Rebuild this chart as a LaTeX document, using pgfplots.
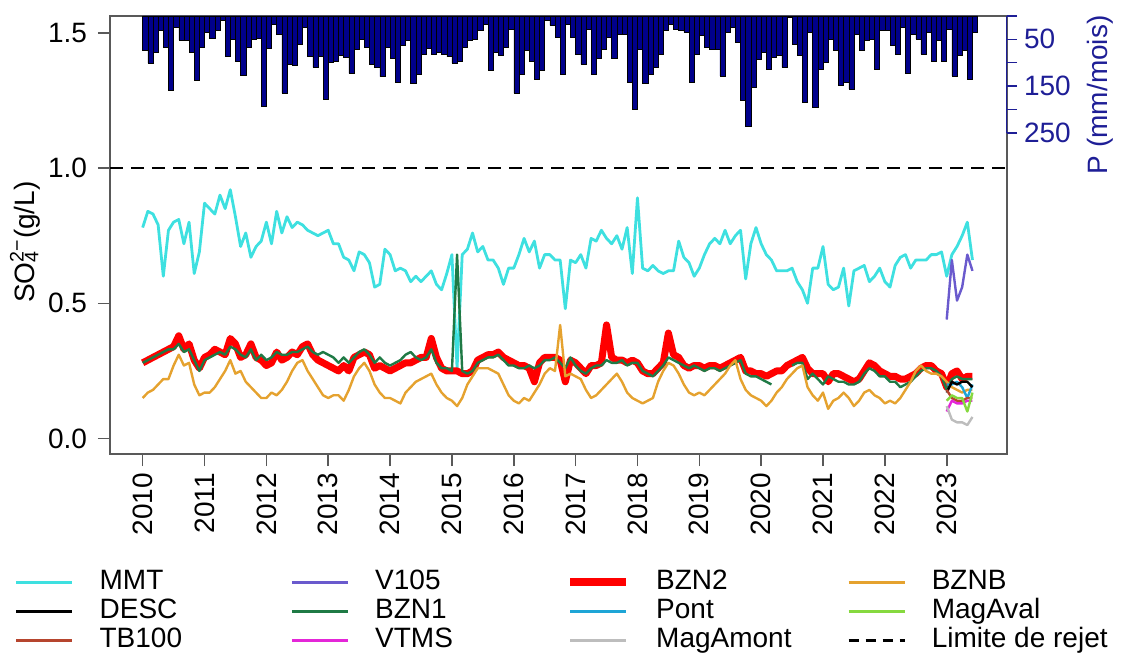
\documentclass[border=0pt]{standalone}
\usepackage{fontspec}
\setmainfont{Liberation Sans}
\usepackage{pgfplots}
\usepackage{pgfplotstable}
\pgfplotsset{compat=1.18}

\definecolor{cMMT}{HTML}{3EE0E0}
\definecolor{cV105}{HTML}{6A5ACD}
\definecolor{cBZN2}{HTML}{FF0000}
\definecolor{cBZNB}{HTML}{E5A22F}
\definecolor{cBZN1}{HTML}{1F7A45}
\definecolor{cPont}{HTML}{1EA5D6}
\definecolor{cMagAval}{HTML}{86D93F}
\definecolor{cTB100}{HTML}{B6452E}
\definecolor{cVTMS}{HTML}{E426D8}
\definecolor{cMagAmont}{HTML}{BDBDBD}
\definecolor{barblue}{HTML}{00008B}
\definecolor{pblue}{HTML}{1E1E96}
\definecolor{boxgray}{HTML}{595959}
\newcommand{\fs}{\fontsize{14}{16.8}\selectfont}
\newcommand{\lt}[1]{\makebox[95.5pt][l]{#1}}

% m = month index from Jan 2010; P in mm/mois; concentrations in g/L
\pgfplotstableread{
m P MMT BZN2 BZN1 BZNB
0 73 0.78 0.28 0.28 0.15
1 101 0.84 0.29 0.29 0.17
2 78 0.83 0.30 0.30 0.18
3 31 0.79 0.31 0.31 0.20
4 67 0.60 0.32 0.32 0.22
5 158 0.77 0.33 0.33 0.22
6 24 0.80 0.34 0.33 0.27
7 51 0.81 0.38 0.35 0.31
8 53 0.72 0.33 0.32 0.27
9 78 0.80 0.35 0.33 0.28
10 137 0.61 0.29 0.29 0.20
11 67 0.69 0.26 0.25 0.16
12 35 0.87 0.30 0.29 0.17
13 47 0.85 0.31 0.30 0.17
14 31 0.83 0.33 0.31 0.19
15 10 0.90 0.32 0.32 0.22
16 87 0.85 0.31 0.31 0.25
17 49 0.92 0.37 0.34 0.29
18 96 0.82 0.35 0.33 0.24
19 126 0.71 0.30 0.31 0.25
20 67 0.76 0.31 0.30 0.21
21 49 0.67 0.35 0.33 0.19
22 47 0.71 0.30 0.29 0.17
23 194 0.73 0.29 0.31 0.15
24 70 0.80 0.27 0.29 0.15
25 17 0.72 0.28 0.30 0.17
26 40 0.84 0.32 0.32 0.16
27 165 0.76 0.29 0.31 0.18
28 103 0.82 0.30 0.31 0.21
29 106 0.78 0.32 0.32 0.25
30 60 0.80 0.31 0.32 0.28
31 24 0.79 0.34 0.33 0.29
32 87 0.77 0.35 0.34 0.25
33 110 0.76 0.31 0.32 0.22
34 87 0.75 0.29 0.31 0.19
35 178 0.76 0.28 0.32 0.16
36 99 0.77 0.27 0.31 0.15
37 96 0.72 0.26 0.30 0.16
38 85 0.72 0.25 0.28 0.16
39 88 0.67 0.27 0.30 0.14
40 123 0.66 0.25 0.28 0.18
41 71 0.62 0.30 0.30 0.23
42 49 0.69 0.31 0.32 0.26
43 67 0.68 0.32 0.33 0.28
44 104 0.65 0.31 0.31 0.25
45 110 0.56 0.26 0.28 0.20
46 130 0.57 0.27 0.30 0.17
47 67 0.70 0.26 0.28 0.15
48 90 0.68 0.25 0.27 0.15
49 142 0.62 0.26 0.28 0.14
50 63 0.63 0.27 0.29 0.13
51 53 0.62 0.28 0.31 0.17
52 145 0.58 0.28 0.32 0.19
53 124 0.60 0.29 0.30 0.21
54 81 0.58 0.30 0.29 0.22
55 70 0.60 0.30 0.30 0.23
56 81 0.62 0.37 0.33 0.24
57 78 0.57 0.30 0.28 0.20
58 81 0.55 0.26 0.26 0.17
59 87 0.61 0.25 0.26 0.15
60 101 0.68 0.25 0.25 0.14
61 96 0.26 0.25 0.68 0.12
62 67 0.68 0.24 0.25 0.15
63 53 0.70 0.24 0.24 0.20
64 49 0.76 0.25 0.25 0.23
65 31 0.69 0.29 0.28 0.26
66 17 0.71 0.30 0.29 0.26
67 117 0.66 0.31 0.30 0.26
68 78 0.66 0.31 0.30 0.25
69 85 0.63 0.32 0.31 0.24
70 67 0.57 0.30 0.29 0.20
71 28 0.63 0.29 0.27 0.16
72 165 0.63 0.28 0.27 0.14
73 124 0.68 0.27 0.26 0.13
74 74 0.74 0.27 0.26 0.15
75 96 0.69 0.26 0.27 0.14
76 135 0.73 0.21 0.26 0.17
77 117 0.63 0.28 0.27 0.20
78 10 0.68 0.30 0.29 0.24
79 20 0.68 0.30 0.29 0.26
80 45 0.66 0.30 0.30 0.25
81 124 0.66 0.29 0.28 0.42
82 17 0.48 0.21 0.26 0.23
83 45 0.66 0.29 0.30 0.24
84 81 0.65 0.28 0.27 0.23
85 103 0.68 0.26 0.25 0.22
86 28 0.63 0.24 0.24 0.18
87 124 0.74 0.27 0.26 0.15
88 90 0.73 0.27 0.27 0.16
89 71 0.77 0.28 0.27 0.18
90 45 0.74 0.42 0.29 0.20
91 90 0.72 0.30 0.28 0.22
92 39 0.75 0.29 0.28 0.24
93 39 0.70 0.29 0.29 0.21
94 142 0.78 0.28 0.27 0.17
95 199 0.61 0.29 0.28 0.15
96 71 0.89 0.28 0.28 0.14
97 145 0.63 0.25 0.25 0.13
98 124 0.62 0.24 0.24 0.14
99 110 0.64 0.24 0.23 0.15
100 81 0.62 0.26 0.25 0.21
101 31 0.61 0.28 0.27 0.25
102 17 0.62 0.39 0.30 0.28
103 28 0.62 0.31 0.29 0.27
104 31 0.73 0.30 0.28 0.24
105 35 0.67 0.27 0.27 0.20
106 142 0.65 0.26 0.26 0.17
107 81 0.60 0.27 0.27 0.16
108 42 0.63 0.27 0.26 0.17
109 67 0.68 0.26 0.25 0.16
110 71 0.72 0.27 0.26 0.18
111 71 0.74 0.27 0.26 0.20
112 128 0.72 0.26 0.25 0.22
113 35 0.77 0.27 0.26 0.24
114 24 0.72 0.28 0.27 0.27
115 56 0.75 0.29 0.28 0.29
116 181 0.77 0.30 0.29 0.22
117 237 0.59 0.25 0.24 0.18
118 153 0.72 0.25 0.23 0.16
119 92 0.78 0.24 0.23 0.15
120 78 0.72 0.24 0.22 0.14
121 113 0.68 0.23 0.21 0.12
122 88 0.66 0.24 0.20 0.14
123 85 0.62 0.25 nan 0.17
124 110 0.62 0.25 nan 0.19
125 3 0.62 0.27 nan 0.22
126 60 0.63 0.28 0.27 0.24
127 85 0.58 0.29 0.28 0.26
128 185 0.55 0.30 0.28 0.27
129 35 0.50 0.26 0.22 0.19
130 195 0.63 0.24 0.24 0.16
131 113 0.63 0.24 0.22 0.14
132 100 0.71 0.24 0.20 0.17
133 50 0.57 0.21 0.23 0.11
134 74 0.55 0.24 0.22 0.14
135 149 0.56 0.24 0.21 0.15
136 142 0.63 0.23 0.21 0.17
137 156 0.49 0.22 0.20 0.15
138 39 0.62 0.21 0.20 0.12
139 74 0.63 0.22 0.21 0.14
140 53 0.64 0.25 0.24 0.17
141 49 0.58 0.28 0.26 0.18
142 113 0.60 0.27 0.25 0.16
143 31 0.63 0.25 0.23 0.15
144 31 0.58 0.24 0.23 0.13
145 63 0.56 0.23 0.21 0.14
146 81 0.64 0.23 0.21 0.13
147 24 0.67 0.22 0.19 0.15
148 122 0.68 0.22 0.20 0.18
149 39 0.63 0.23 0.21 0.21
150 49 0.66 0.24 0.23 0.25
151 81 0.66 0.26 0.25 0.27
152 35 0.66 0.27 0.26 0.25
153 96 0.68 0.27 0.26 0.24
154 53 0.68 0.25 0.25 0.24
155 96 0.69 0.24 0.23 0.23
156 28 0.60 0.19 0.18 0.21
157 128 0.68 0.24 0.22 0.19
158 85 0.71 0.25 0.23 0.18
159 74 0.75 0.22 0.22 0.17
160 135 0.80 0.23 0.22 0.18
161 35 0.66 0.23 0.22 0.18
162 0 nan nan nan nan
}\monthly

% 2023 campaign stations
\pgfplotstableread{
m V105 DESC Pont MagAval MagAmont VTMS TB100
156 0.44 0.17 0.20 0.14 0.12 0.10 0.18
157 0.66 0.21 0.20 0.16 0.07 0.14 0.15
158 0.51 0.20 0.21 0.15 0.06 0.13 0.14
159 0.56 0.21 0.19 0.15 0.06 0.13 0.14
160 0.68 0.21 0.15 0.10 0.05 0.14 0.15
161 0.62 0.19 0.20 0.17 0.08 0.14 0.15
}\campagne

\begin{document}
\begin{tikzpicture}
\begin{axis}[
  name=main,
  at={(0,0)}, anchor=south west,
  scale only axis, width=448.5pt, height=219pt,
  xmin=-6.34, xmax=167.7, ymin=-0.057, ymax=1.562,
  axis line style={boxgray, line width=0.8pt},
  xtick={0,12,24,36,48,60,72,84,96,108,120,132,144,156},
  xticklabels={2010,2011,2012,2013,2014,2015,2016,2017,2018,2019,2020,2021,2022,2023},
  ytick={0,0.5,1,1.5}, yticklabels={0.0,0.5,1.0,1.5},
  xtick pos=bottom, ytick pos=left,
  tick align=outside, major tick length=6pt,
  tick style={boxgray, line width=0.8pt},
  xticklabel style={rotate=90, anchor=east, font=\fs},
  yticklabel style={font=\fs, xshift=-2pt},
  /pgf/number format/assume math mode=true,
  ylabel={SO\rlap{\textsubscript{4}}\textsuperscript{2−}(g/L)},
  ylabel style={font=\fs, at={(axis description cs:-0.0948,0.484)}, anchor=center},
  no markers,
  legend columns=4,
  legend style={at={(axis description cs:-0.1059,-0.2648)}, anchor=north west,
    draw=none, fill=none, inner sep=0pt, outer sep=0pt, column sep=0pt, row sep=2pt,
    font=\fs, cells={anchor=west},
    nodes={inner sep=0pt, text height=10pt, text depth=2.5pt}},
  legend image code/.code={\draw[#1] (0pt,0pt) -- (28pt,0pt); \path (41pt,0pt);},
]
\addplot[forget plot, black, line width=1pt, dash pattern=on 6.5pt off 4pt] coordinates {(-6.34,1) (167.7,1)};
\addplot[forget plot, cMMT, line width=1.4pt, line join=round] table[x=m, y=MMT] {\monthly};
\addplot[forget plot, cBZN2, line width=3.5pt, line join=round] table[x=m, y=BZN2] {\monthly};
\addplot[forget plot, cBZN1, line width=1.2pt, line join=round, unbounded coords=jump] table[x=m, y=BZN1] {\monthly};
\addplot[forget plot, cBZNB, line width=1.2pt, line join=round] table[x=m, y=BZNB] {\monthly};
\addplot[forget plot, cV105, line width=1.2pt, line join=round] table[x=m, y=V105] {\campagne};
\addplot[forget plot, cPont, line width=1.2pt, line join=round] table[x=m, y=Pont] {\campagne};
\addplot[forget plot, black, line width=1.2pt, line join=round] table[x=m, y=DESC] {\campagne};
\addplot[forget plot, cTB100, line width=1.2pt, line join=round] table[x=m, y=TB100] {\campagne};
\addplot[forget plot, cVTMS, line width=1.2pt, line join=round] table[x=m, y=VTMS] {\campagne};
\addplot[forget plot, cMagAval, line width=1.2pt, line join=round] table[x=m, y=MagAval] {\campagne};
\addplot[forget plot, cMagAmont, line width=1.2pt, line join=round] table[x=m, y=MagAmont] {\campagne};

\addlegendimage{cMMT, line width=1.3pt}
\addlegendentry{\lt{MMT}}
\addlegendimage{cV105, line width=1.3pt}
\addlegendentry{\lt{V105}}
\addlegendimage{cBZN2, line width=4pt}
\addlegendentry{\lt{BZN2}}
\addlegendimage{cBZNB, line width=1.3pt}
\addlegendentry{\lt{BZNB}}
\addlegendimage{black, line width=1.3pt}
\addlegendentry{\lt{DESC}}
\addlegendimage{cBZN1, line width=1.3pt}
\addlegendentry{\lt{BZN1}}
\addlegendimage{cPont, line width=1.3pt}
\addlegendentry{\lt{Pont}}
\addlegendimage{cMagAval, line width=1.3pt}
\addlegendentry{\lt{MagAval}}
\addlegendimage{cTB100, line width=1.3pt}
\addlegendentry{\lt{TB100}}
\addlegendimage{cVTMS, line width=1.3pt}
\addlegendentry{\lt{VTMS}}
\addlegendimage{cMagAmont, line width=1.3pt}
\addlegendentry{\lt{MagAmont}}
\addlegendimage{black, line width=1.1pt, dash pattern=on 5pt off 3.5pt}
\addlegendentry{\lt{Limite de rejet}}
\end{axis}

\begin{axis}[
  at={(main.south west)}, anchor=south west,
  scale only axis, width=448.5pt, height=219pt,
  xmin=-6.34, xmax=167.7, ymin=0, ymax=938, y dir=reverse,
  axis x line=none, axis y line*=right,
  y axis line style={draw=none},
  ytick={0,50,100,150,200,250}, yticklabels={,50,,150,,250},
  tick align=outside, major tick length=5pt,
  ytick style={pblue, line width=0.8pt},
  yticklabel style={font=\fs, text=pblue},
  /pgf/number format/assume math mode=true,
  ylabel={P (mm/mois)},
  ylabel style={font=\fs, text=pblue, at={(axis description cs:1.104,0.82)}, anchor=center},
]
\addplot[ybar interval, fill=barblue, draw=black, line width=0.25pt] table[x=m, y=P] {\monthly};
\draw[pblue, line width=0.8pt] (axis description cs:1,1) -- (axis description cs:1,0.7335);
\end{axis}

\pgfresetboundingbox
\path[use as bounding box] ([shift={(-55pt,-107.5pt)}]main.south west) rectangle ([shift={(61pt,8pt)}]main.north east);
\end{tikzpicture}
\end{document}
